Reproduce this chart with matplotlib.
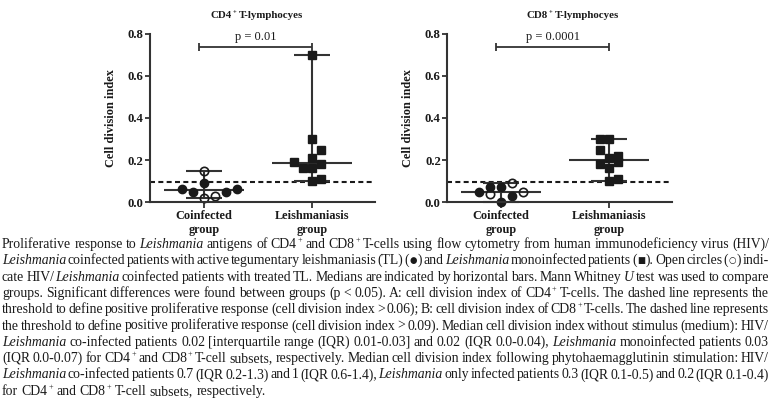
import re
import numpy as np
import matplotlib
matplotlib.use("Agg")
import matplotlib.pyplot as plt

plt.rcParams['font.family'] = 'Liberation Serif'

# ---------------- data ----------------
groups = ["Coinfected\ngroup", "Leishmaniasis\ngroup"]
panel_titles = ["CD4^+ T-lymphocyes", "CD8^+ T-lymphocyes"]
p_labels = ["p = 0.01", "p = 0.0001"]
y_label = "Cell division index"
y_ticks = [0.0, 0.2, 0.4, 0.6, 0.8]
y_tick_labels = ["0.0", "0.2", "0.4", "0.6", "0.8"]
threshold = 0.095

# HIV/Leishmania coinfected, active TL (filled circles) / treated TL (open circles)
cd4_coinf_active = [0.09, 0.06, 0.05, 0.05, 0.06]
cd4_coinf_treated = [0.15, 0.02, 0.03]
cd4_leish = [0.70, 0.30, 0.25, 0.21, 0.19, 0.18, 0.16, 0.16, 0.11, 0.10]

cd8_coinf_active = [0.05, 0.07, 0.07, 0.00, 0.03]
cd8_coinf_treated = [0.04, 0.09, 0.05]
cd8_leish = [0.30, 0.30, 0.25, 0.21, 0.22, 0.19, 0.18, 0.16, 0.10, 0.11]

caption_lines = [
    "Proliferative response to *Leishmania* antigens of CD4^+ and CD8^+ T-cells using flow cytometry from human immunodeficiency virus (HIV)/",
    "*Leishmania* coinfected patients with active tegumentary leishmaniasis (TL) (\u25cf) and *Leishmania* monoinfected patients (\u25a0). Open circles (\u25cb) indi-",
    "cate HIV/*Leishmania* coinfected patients with treated TL. Medians are indicated by horizontal bars. Mann Whitney *U* test was used to compare",
    "groups. Significant differences were found between groups (p < 0.05). A: cell division index of CD4^+ T-cells. The dashed line represents the",
    "threshold to define positive proliferative response (cell division index > 0.06); B: cell division index of CD8^+ T-cells. The dashed line represents",
    "the threshold to define positive proliferative response (cell division index > 0.09). Median cell division index without stimulus (medium): HIV/",
    "*Leishmania* co-infected patients 0.02 [interquartile range (IQR) 0.01-0.03] and 0.02 (IQR 0.0-0.04), *Leishmania* monoinfected patients 0.03",
    "(IQR 0.0-0.07) for CD4^+ and CD8^+ T-cell subsets, respectively. Median cell division index following phytohaemagglutinin stimulation: HIV/",
    "*Leishmania* co-infected patients 0.7 (IQR 0.2-1.3) and 1 (IQR 0.6-1.4), *Leishmania* only infected patients 0.3 (IQR 0.1-0.5) and 0.2 (IQR 0.1-0.4)",
    "for CD4^+ and CD8^+ T-cell subsets, respectively.",
]

# ---------------- layout (swarm slots, not data) ----------------
cd4_active_slot = [0, -2, -1, 2, 3]
cd4_treated_slot = [0, 0, 1]
cd4_leish_slot = [0, 0, 1, 0, -2, 1, -1, 0, 1, 0]
cd8_active_slot = [-2, -1, 0, 0, 1]
cd8_treated_slot = [-1, 1, 2]
cd8_leish_slot = [-1, 0, -1, 0, 1, 1, -1, 0, 0, 1]

W, H = 771, 401
fig = plt.figure(figsize=(W / 100, H / 100), dpi=100)
renderer = fig.canvas.get_renderer()

LC = '#333333'
MC = '#1a1a1a'
TXT = '#1a1a1a'
LW = 1.5
STEP_C = 0.102
STEP_S = 0.085
CAP = 0.17
MED = 0.37


def px_axes(l, t, r, b):
    return [l / W, 1 - b / H, (r - l) / W, (b - t) / H]


def draw_panel(ax, active, a_slot, treated, t_slot, leish, l_slot, pval):
    coinf_all = np.array(active + treated, dtype=float)
    leish_arr = np.array(leish, dtype=float)
    for pos, vals in [(1, coinf_all), (2, leish_arr)]:
        med, lo, hi = np.median(vals), vals.min(), vals.max()
        kw = dict(color=LC, lw=LW, zorder=1.5, clip_on=False, solid_capstyle='butt')
        ax.plot([pos, pos], [lo, hi], **kw)
        ax.plot([pos - CAP, pos + CAP], [lo, lo], **kw)
        ax.plot([pos - CAP, pos + CAP], [hi, hi], **kw)
        ax.plot([pos - MED, pos + MED], [med, med], **kw)
    ax.plot(1 + np.array(a_slot) * STEP_C, active, 'o', ms=6.0, color=MC,
            mec=MC, zorder=2, clip_on=False)
    ax.plot(1 + np.array(t_slot) * STEP_C, treated, 'o', ms=6.0, mfc='none',
            mec=MC, mew=1.2, zorder=2, clip_on=False)
    ax.plot(2 + np.array(l_slot) * STEP_S, leish, 's', ms=5.2, color=MC,
            mec=MC, zorder=2, clip_on=False)
    ax.axhline(threshold, color=MC, lw=1.5, ls=(0, (2.4, 1.6)), zorder=1)
    # significance bracket
    bx0, bx1, by = 0.955, 2.0, 0.74
    kw = dict(color=LC, lw=1.3, clip_on=False, solid_capstyle='butt')
    ax.plot([bx0, bx1], [by, by], **kw)
    ax.plot([bx0, bx0], [by - 0.019, by + 0.019], **kw)
    ax.plot([bx1, bx1], [by - 0.019, by + 0.019], **kw)
    ax.text((bx0 + bx1) / 2, 0.787, pval, ha='center', va='center',
            fontsize=9, color=TXT)
    ax.set_xlim(0.5, 2.583)
    ax.set_ylim(0, 0.8)
    ax.set_xticks([1, 2])
    ax.set_xticklabels(groups, fontweight='bold', fontsize=8.8, color=TXT,
                       linespacing=1.2)
    ax.set_yticks(y_ticks)
    ax.set_yticklabels(y_tick_labels, fontweight='bold', fontsize=9.2, color=TXT)
    ax.tick_params(axis='x', length=4, width=1.3, color=LC, pad=2)
    ax.tick_params(axis='y', length=3.5, width=1.3, color=LC, pad=1)
    ax.set_ylabel(y_label, fontweight='bold', fontsize=8.8, color=TXT, labelpad=8)
    for s in ['top', 'right']:
        ax.spines[s].set_visible(False)
    for s in ['left', 'bottom']:
        ax.spines[s].set_linewidth(1.5)
        ax.spines[s].set_color(LC)
    ax.patch.set_visible(False)


ax1 = fig.add_axes(px_axes(150, 34, 375, 202))
ax2 = fig.add_axes(px_axes(447, 34, 672, 202))
draw_panel(ax1, cd4_coinf_active, cd4_active_slot, cd4_coinf_treated, cd4_treated_slot,
           cd4_leish, cd4_leish_slot, p_labels[0])
draw_panel(ax2, cd8_coinf_active, cd8_active_slot, cd8_coinf_treated, cd8_treated_slot,
           cd8_leish, cd8_leish_slot, p_labels[1])


# ---------------- rich text helpers ----------------
SYMBOLS = '\u25cf\u25a0\u25cb'


def word_segments(word):
    segs = []
    for p in re.split(r'(\*[^*]+\*|\^\+|[\u25cf\u25a0\u25cb])', word):
        if not p:
            continue
        if p == '^+':
            segs.append(('+', 'sup'))
        elif p in SYMBOLS:
            segs.append((p, 'sym'))
        elif len(p) > 1 and p.startswith('*') and p.endswith('*'):
            segs.append((p[1:-1], 'i'))
        else:
            segs.append((p, 'n'))
    return segs


def make_seg(x, y, s, kind, fs, weight):
    size = fs
    dy = 0
    family = 'Liberation Serif'
    if kind == 'sup':
        size = fs * 0.6
        dy = fs * 0.42 * 100 / 72
    elif kind == 'sym':
        size = fs * 0.62
        family = 'DejaVu Sans'
        dy = fs * 0.08 * 100 / 72
    return fig.text(x / W, (H - y + dy) / H, s, fontsize=size, fontweight=weight,
                    family=family,
                    fontstyle='italic' if kind == 'i' else 'normal',
                    ha='left', va='baseline', color=TXT)


_cache = {}


def seg_width(s, kind, fs, weight):
    key = (s, kind, fs, weight)
    if key not in _cache:
        t = make_seg(0, 100, s, kind, fs, weight)
        _cache[key] = t.get_window_extent(renderer).width
        t.remove()
    return _cache[key]


SEG_GAP = 0.7


def word_width(word, fs, weight):
    segs = word_segments(word)
    return sum(seg_width(s, k, fs, weight) for s, k in segs) + SEG_GAP * (len(segs) - 1)


def draw_word(x, y, word, fs, weight):
    for s, k in word_segments(word):
        make_seg(x, y, s, k, fs, weight)
        x += seg_width(s, k, fs, weight) + SEG_GAP


def draw_line(text, x, y, fs, weight, gap=None, right=None, center=None):
    words = text.split(' ')
    widths = [word_width(w, fs, weight) for w in words]
    if gap is None:
        gap = (right - x - sum(widths)) / max(len(words) - 1, 1)
    if center is not None:
        total = sum(widths) + gap * (len(words) - 1)
        x = center - total / 2
    for w, wd in zip(words, widths):
        draw_word(x, y, w, fs, weight)
        x += wd + gap


# titles
TFS = 7.8
draw_line(panel_titles[0], 0, 18.5, TFS, 'bold', gap=TFS * 1.389 * 0.27, center=257)
draw_line(panel_titles[1], 0, 18.5, TFS, 'bold', gap=TFS * 1.389 * 0.27, center=573)

# caption
CFS = 9.9
CAP_L, CAP_R = 2, 769
CAP_Y0, CAP_DY = 248, 16.3
for i, line in enumerate(caption_lines):
    y = CAP_Y0 + i * CAP_DY
    if i < len(caption_lines) - 1:
        draw_line(line, CAP_L, y, CFS, 'normal', right=CAP_R)
    else:
        draw_line(line, CAP_L, y, CFS, 'normal', gap=CFS * 1.389 * 0.25)

fig.savefig("out.png", dpi=100)
